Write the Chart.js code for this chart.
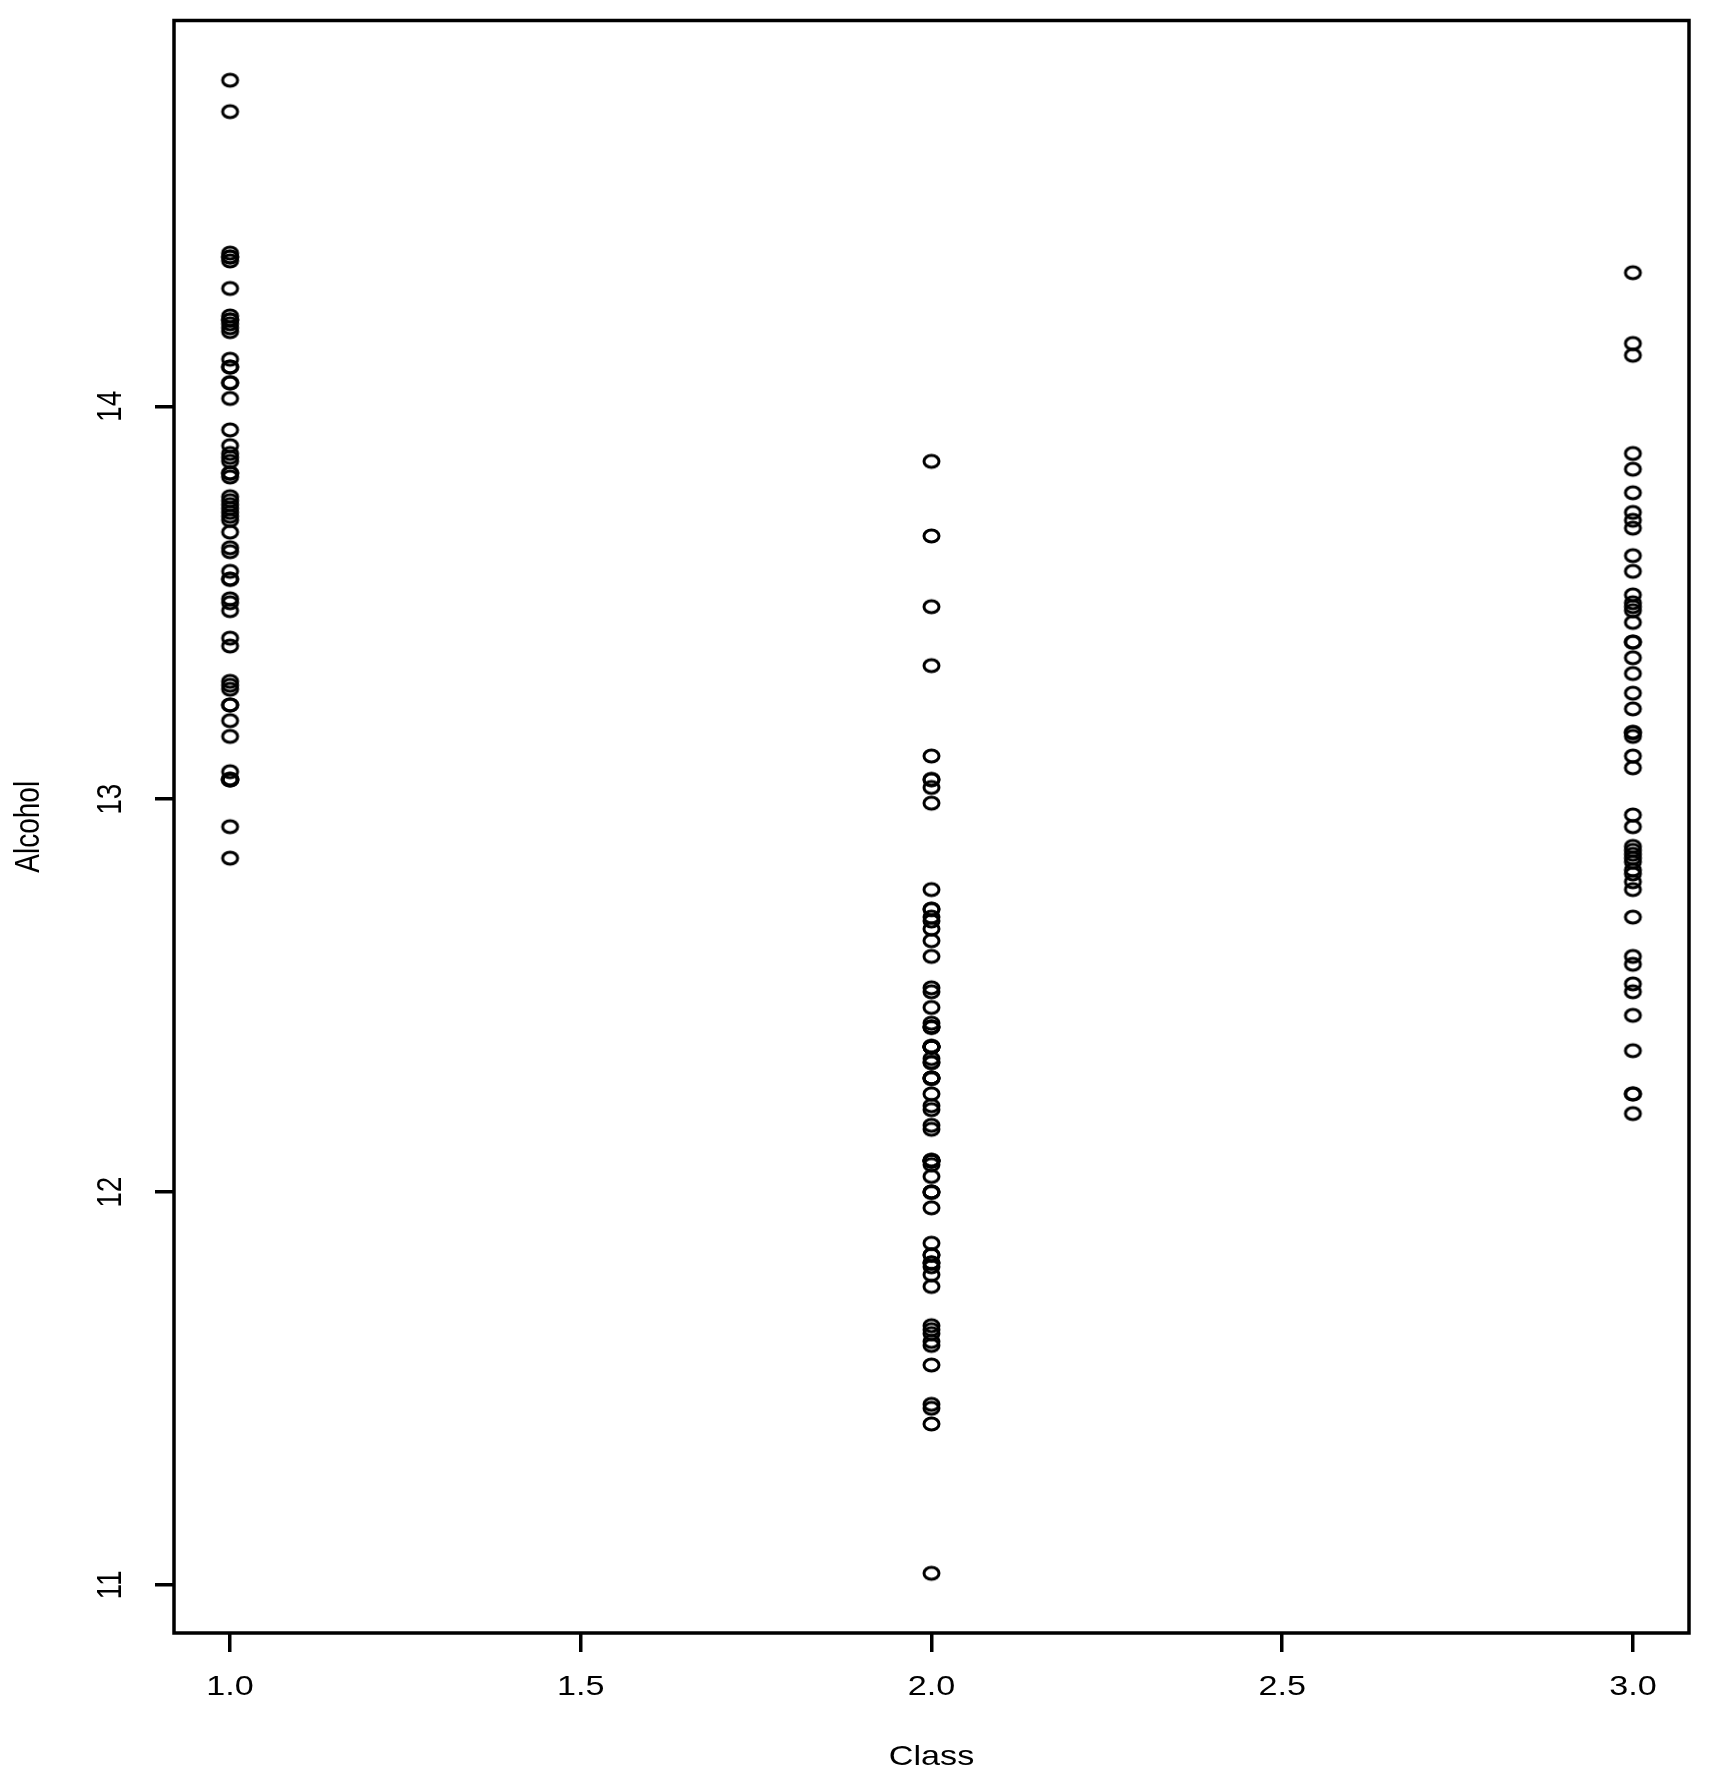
<!DOCTYPE html>
<html>
<head>
<meta charset="utf-8">
<title>Alcohol by Class</title>
<script src="https://cdn.jsdelivr.net/npm/chart.js@4/dist/chart.umd.min.js"></script>
<style>
  html, body { margin: 0; padding: 0; background: #fff; }
  canvas { display: block; }
</style>
</head>
<body>
<canvas id="alcoholChart" width="1719" height="1791"></canvas>
<script>
// values (wine data, alcohol per class)
const classes = [1, 2, 3];
const class1Alcohol = [14.23, 13.2, 13.16, 14.37, 13.24, 14.2, 14.39, 14.06, 14.83, 13.86, 14.1, 14.12, 13.75, 14.75, 14.38,
    13.63, 14.3, 13.83, 14.19, 13.64, 14.06, 12.93, 13.71, 12.85, 13.5, 13.05, 13.39, 13.3, 13.87, 14.02, 13.73, 13.58,
    13.68, 13.76, 13.51, 13.48, 13.28, 13.05, 13.07, 14.22, 13.56, 13.41, 13.88, 13.24, 13.05, 14.21, 14.38, 13.9, 14.1,
    13.94, 13.05, 13.83, 13.82, 13.77, 13.74, 13.56, 14.22, 13.29, 13.72];
const class2Alcohol = [12.37, 12.33, 12.64, 13.67, 12.37, 12.17, 12.37, 13.11, 12.37, 13.34, 12.21, 12.29, 13.86, 13.49,
    12.99, 11.96, 11.66, 13.03, 11.84, 12.33, 12.7, 12.0, 12.72, 12.08, 13.05, 11.84, 12.67, 12.16, 11.65, 11.64, 12.08,
    12.08, 12.0, 12.69, 12.29, 11.62, 12.47, 11.81, 12.29, 12.37, 12.29, 12.08, 12.6, 12.34, 11.82, 12.51, 12.42, 12.25,
    12.72, 12.22, 11.61, 11.46, 12.52, 11.76, 11.41, 12.08, 11.03, 11.82, 12.42, 12.77, 12.0, 11.45, 11.56, 12.42, 13.05,
    11.87, 12.07, 12.43, 11.79, 12.37, 12.04];
const class3Alcohol = [12.86, 12.88, 12.81, 12.7, 12.51, 12.6, 12.25, 12.53, 13.49, 12.84, 12.93, 13.36, 13.52, 13.62,
    12.25, 13.16, 13.88, 12.87, 13.32, 13.08, 13.5, 12.79, 13.11, 13.23, 12.58, 13.17, 13.84, 12.45, 14.34, 13.48, 12.36,
    13.69, 12.85, 12.96, 13.78, 13.73, 13.45, 12.82, 13.58, 13.4, 12.2, 12.77, 14.16, 13.71, 13.4, 13.27, 13.17, 14.13];
const xTicks = [1.0, 1.5, 2.0, 2.5, 3.0];
const yTicks = [11, 12, 13, 14];
const xTitle = 'Class';
const yTitle = 'Alcohol';

const FONT = "'Liberation Sans', Arial, sans-serif";
const STRETCH = 1.22; // the picture is a bit wider than it was drawn
Chart.defaults.font.family = FONT;
Chart.defaults.color = '#000';

// R-like open circle (a little wider than tall, like the picture)
function ringMarker() {
    const c = document.createElement('canvas');
    c.width = 21;
    c.height = 18;
    const g = c.getContext('2d');
    g.strokeStyle = '#000';
    g.lineWidth = 3;
    g.beginPath();
    g.ellipse(10.5, 9, 7.5, 6.0, 0, 0, Math.PI * 2);
    g.stroke();
    return c;
}
const marker = ringMarker();

function toPoints(cls, values) {
    return values.map(v => ({ x: cls, y: v }));
}

// R pads the data range by 4% on each side
const allY = class1Alcohol.concat(class2Alcohol, class3Alcohol);
const yLo = Math.min(...allY), yHi = Math.max(...allY);
const yPad = (yHi - yLo) * 0.04;
const xPad = (classes[classes.length - 1] - classes[0]) * 0.04;

function wideText(ctx, text, x, y, rot) {
    ctx.save();
    ctx.translate(x, y);
    ctx.scale(STRETCH, 1);
    if (rot) ctx.rotate(rot);
    ctx.fillText(text, 0, 0);
    ctx.restore();
}

const boxAndLabels = {
    id: 'boxAndLabels',
    afterDraw(chart) {
        const ctx = chart.ctx;
        const a = chart.chartArea;
        const xs = chart.scales.x, ys = chart.scales.y;
        ctx.save();
        ctx.strokeStyle = '#000';
        ctx.lineWidth = 3.5;
        ctx.strokeRect(a.left, a.top, a.right - a.left, a.bottom - a.top);
        ctx.fillStyle = '#000';
        ctx.font = '28px ' + FONT;
        ctx.textAlign = 'center';
        ctx.textBaseline = 'middle';
        xTicks.forEach(t => wideText(ctx, t.toFixed(1), xs.getPixelForValue(t), a.bottom + 54));
        yTicks.forEach(t => wideText(ctx, String(t), 112, ys.getPixelForValue(t), -Math.PI / 2));
        wideText(ctx, xTitle, (a.left + a.right) / 2, a.bottom + 124);
        wideText(ctx, yTitle, 30, (a.top + a.bottom) / 2, -Math.PI / 2);
        ctx.restore();
    }
};

const sets = [class1Alcohol, class2Alcohol, class3Alcohol].map((vals, i) => ({
    label: 'Class ' + classes[i],
    data: toPoints(classes[i], vals),
    pointStyle: marker,
    pointRadius: 9,
    pointHoverRadius: 9,
    showLine: false
}));

const ctx = document.getElementById('alcoholChart').getContext('2d');
const alcoholChart = new Chart(ctx, {
    type: 'scatter',
    data: { datasets: sets },
    options: {
        responsive: false,
        animation: false,
        events: [],
        layout: { padding: { top: 20.5, right: 30, left: 0, bottom: 0 } },
        plugins: {
            legend: { display: false },
            tooltip: { enabled: false }
        },
        scales: {
            x: {
                type: 'linear',
                min: classes[0] - xPad,
                max: classes[classes.length - 1] + xPad,
                afterBuildTicks: s => { s.ticks = xTicks.map(v => ({ value: v })); },
                afterFit: s => { s.height = 158; },
                grid: { drawOnChartArea: false, drawTicks: true, tickLength: 19, lineWidth: 3.5, tickColor: '#000' },
                border: { display: false },
                ticks: { display: false }
            },
            y: {
                type: 'linear',
                min: yLo - yPad,
                max: yHi + yPad,
                afterBuildTicks: s => { s.ticks = yTicks.map(v => ({ value: v })); },
                afterFit: s => { s.width = 174; },
                grid: { drawOnChartArea: false, drawTicks: true, tickLength: 19, lineWidth: 3.5, tickColor: '#000' },
                border: { display: false },
                ticks: { display: false }
            }
        }
    },
    plugins: [boxAndLabels]
});
</script>
</body>
</html>
